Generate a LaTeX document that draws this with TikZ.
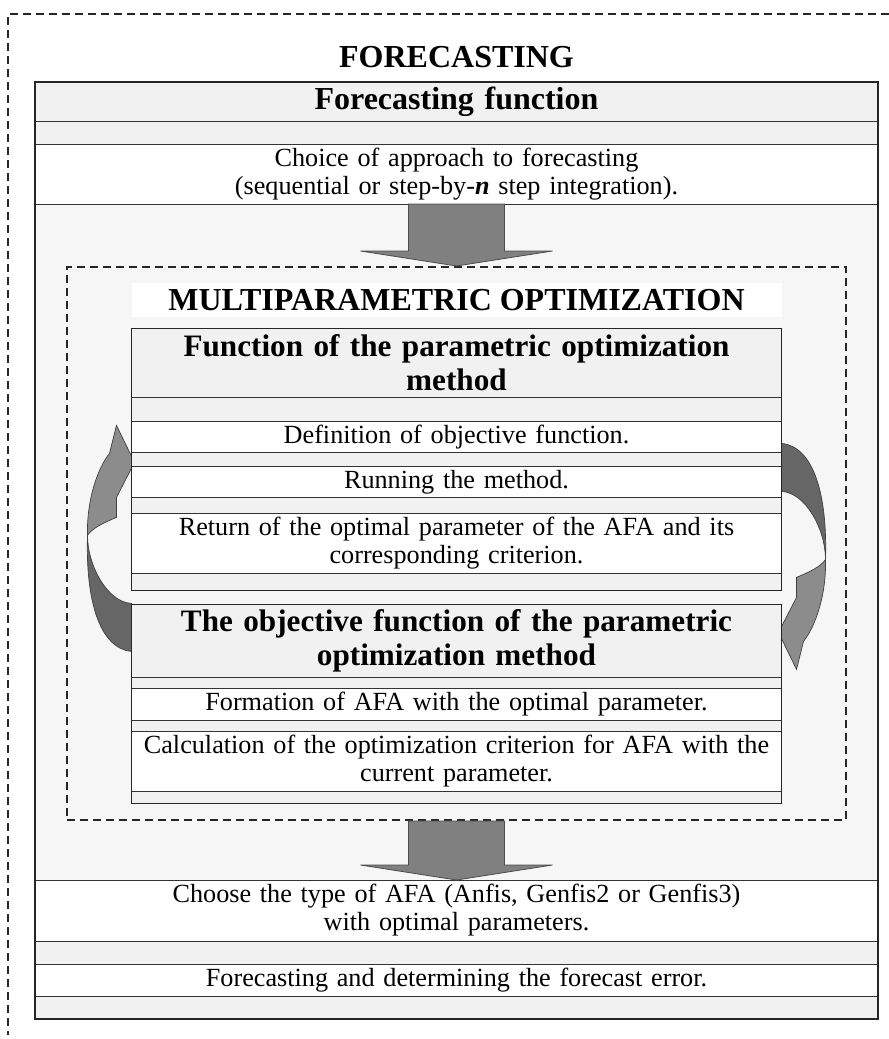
\documentclass[tikz,border=0pt]{standalone}
\usepackage{fontspec}
\setmainfont{Liberation Serif}
\usetikzlibrary{positioning,calc,backgrounds}
\pgfdeclarelayer{twist}
\pgfsetlayers{background,twist,main}

\definecolor{rowgray}{gray}{0.945}
\definecolor{areagray}{gray}{0.965}
\definecolor{arrowgray}{gray}{0.5}
\definecolor{twistdark}{gray}{0.4}
\definecolor{twistlight}{gray}{0.55}

\newcommand{\bodysize}{\fontsize{26.2pt}{28pt}\selectfont}
\newcommand{\headsize}{\fontsize{32pt}{34pt}\selectfont\bfseries}
\newcommand{\boxheadsize}{\fontsize{31.2pt}{34pt}\selectfont\bfseries}

\tikzset{
  row/.style    ={draw=black!80, line width=1pt, fill=white, inner sep=0pt,
    outer sep=0pt, align=center, font=\bodysize},
  gaprow/.style ={row, fill=rowgray},
  headrow/.style={row, fill=rowgray, font=\headsize},
  boxhead/.style={row, fill=rowgray, font=\boxheadsize},
  wide/.style   ={minimum width=843pt, text width=843pt},
  narrow/.style ={minimum width=650pt, text width=650pt},
  frame/.style  ={draw=black!85, line width=1.8pt},
  outerdash/.style={draw=black!85, line width=1.6pt, dash pattern=on 8pt off 5pt},
  dashbox/.style={draw=black!85, line width=2pt, dash pattern=on 8pt off 5pt,
    inner sep=0pt, minimum width=779pt, minimum height=553pt},
  titlebox/.style={fill=white, inner sep=0pt, minimum width=650pt,
    minimum height=34pt, font=\headsize},
  blockarrow/.style={fill=arrowgray, draw=black!70, line width=0.8pt},
  twistback/.style ={fill=twistdark, draw=black!75, line width=0.7pt},
  twistfront/.style={fill=twistlight, draw=black!75, line width=0.7pt},
  pics/twistarrow/.style={code={
    \filldraw[twistback] (-44,-69) .. controls (-46,-4) and (-32,44) .. (0,47)
      -- (0,-1) .. controls (-24,-2) and (-44,-39) .. cycle;
    \filldraw[twistfront] (-44,-69) .. controls (-45,-104) and (-34,-136) .. (-22,-151)
      -- (-15,-179) -- (3,-142) -- (-15,-107) -- (-15,-87)
      .. controls (-27,-82) and (-40,-76) .. cycle;
  }}
}

% wide block arrow pointing down from #1 to #2
\newcommand{\blockdown}[2]{%
  \filldraw[blockarrow] ($(#1)+(-48,0)$) -- ($(#2)+(-48,-15)$)
    -- ($(#2)+(-96,-15)$) -- (#2) -- ($(#2)+(96,-15)$)
    -- ($(#2)+(48,-15)$) -- ($(#1)+(48,0)$) -- cycle;}

\begin{document}
\begin{tikzpicture}[x=1pt, y=-1pt, node distance=0pt]
  \useasboundingbox (0,0) rectangle (889,1039);

  % outer frame (cut off at the right and bottom)
  \draw[outerdash] (889,14) -- (8,14) -- (8,1035);

  % ---------- forecasting column ----------
  \begin{pgfonlayer}{background}
    \node[headrow, wide, minimum height=39pt, anchor=north west] (fhead) at (35,82)
      {Forecasting function};
    \node[gaprow, wide, minimum height=23pt, below=of fhead] (fgap1) {};
    \node[row, wide, minimum height=60pt, below=of fgap1] (fchoice)
      {Choice of approach to forecasting\\
       (sequential or step-by-\textbf{\textit{n}} step integration).};
    \node[gaprow, wide, minimum height=676pt, fill=areagray, below=of fchoice] (farea) {};
    \node[row, wide, minimum height=61pt, below=of farea] (fafa)
      {Choose the type of AFA (Anfis, Genfis2 or Genfis3)\\with optimal parameters.};
    \node[gaprow, wide, minimum height=23pt, below=of fafa] (fgap2) {};
    \node[row, wide, minimum height=32pt, below=of fgap2] (ferror)
      {Forecasting and determining the forecast error.};
    \node[gaprow, wide, minimum height=23pt, below=of ferror] (fgap3) {};
  \end{pgfonlayer}
  \draw[frame] (fhead.north west) rectangle (fgap3.south east);

  \node[font=\headsize, inner sep=0pt, above=14pt of fhead] (ftitle) {FORECASTING};

  % ---------- multiparametric optimization ----------
  \node[dashbox, below=62pt of fchoice] (mopt) {};
  \node[titlebox, below=17pt of mopt.north] (mtitle) {MULTIPARAMETRIC OPTIMIZATION};

  % method function
  \node[boxhead, narrow, minimum height=69pt, below=11pt of mtitle] (phead)
    {Function of the parametric optimization\\method};
  \node[gaprow, narrow, minimum height=24pt, below=of phead] (pgap1) {};
  \node[row, narrow, minimum height=31pt, below=of pgap1] (pdef)
    {Definition of objective function.};
  \node[gaprow, narrow, minimum height=14pt, below=of pdef] (pgap2) {};
  \node[row, narrow, minimum height=31pt, below=of pgap2] (prun)
    {Running the method.};
  \node[gaprow, narrow, minimum height=16pt, below=of prun] (pgap3) {};
  \node[row, narrow, minimum height=60pt, below=of pgap3] (pret)
    {Return of the optimal parameter of the AFA and its\\corresponding criterion.};
  \node[gaprow, narrow, minimum height=17pt, below=of pret] (pgap4) {};
  \draw[frame] (phead.north west) rectangle (pgap4.south east);

  % objective function
  \node[boxhead, narrow, minimum height=73pt, below=14pt of pgap4] (ohead)
    {The objective function of the parametric\\optimization method};
  \node[gaprow, narrow, minimum height=11pt, below=of ohead] (ogap1) {};
  \node[row, narrow, minimum height=32pt, below=of ogap1] (oform)
    {Formation of AFA with the optimal parameter.};
  \node[gaprow, narrow, minimum height=11pt, below=of oform] (ogap2) {};
  \node[row, narrow, minimum height=60pt, below=of ogap2] (ocalc)
    {Calculation of the optimization criterion for AFA with the\\current parameter.};
  \node[gaprow, narrow, minimum height=12pt, below=of ocalc] (ogap3) {};
  \draw[frame] (ohead.north west) rectangle (ogap3.south east);

  % loop between the two functions
  \begin{pgfonlayer}{twist}
    \pic at (ohead.north west) {twistarrow};
    \pic[rotate=180] at ($(pgap4.south east)+(0,-100)$) {twistarrow};
  \end{pgfonlayer}

  % ---------- block arrows ----------
  \blockdown{fchoice.south}{mopt.north}
  \blockdown{mopt.south}{fafa.north}

\end{tikzpicture}
\end{document}
